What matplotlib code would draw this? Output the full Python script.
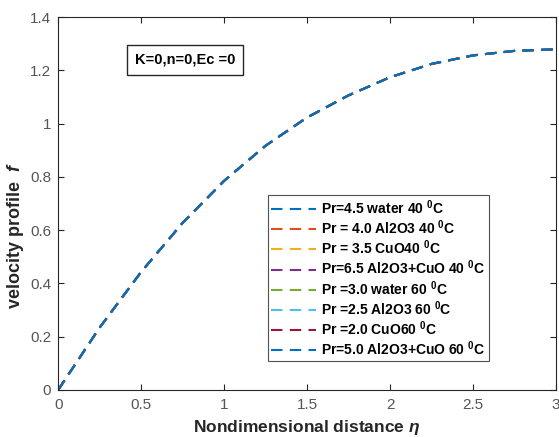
import matplotlib
matplotlib.use("Agg")
import matplotlib.pyplot as plt

eta = [0, 0.25, 0.5, 0.75, 1.0, 1.25, 1.5, 1.75, 2.0, 2.25, 2.5, 2.75, 3.0]
f_vals = [0, 0.234, 0.443, 0.627, 0.785, 0.917, 1.023, 1.106, 1.174, 1.224, 1.256, 1.273, 1.279]

labels = [
    r"Pr=4.5 water 40 $^{0}$C",
    r"Pr = 4.0 Al2O3 40 $^{0}$C",
    r"Pr = 3.5 CuO40 $^{0}$C",
    r"Pr=6.5 Al2O3+CuO 40 $^{0}$C",
    r"Pr =3.0 water 60 $^{0}$C",
    r"Pr =2.5 Al2O3 60 $^{0}$C",
    r"Pr =2.0 CuO60 $^{0}$C",
    r"Pr=5.0 Al2O3+CuO 60 $^{0}$C",
]
colors = ["#0072BD", "#D95319", "#EDB120", "#7E2F8E", "#77AC30", "#4DBEEE", "#A2142F", "#0072BD"]

plt.rcParams['font.family'] = ['Liberation Sans', 'DejaVu Sans']
plt.rcParams['mathtext.fontset'] = 'custom'
plt.rcParams['mathtext.rm'] = 'Liberation Sans:bold'
plt.rcParams['mathtext.it'] = 'Liberation Sans:italic:bold'
plt.rcParams['mathtext.bf'] = 'Liberation Sans:bold'

fig = plt.figure(figsize=(5.59, 4.37), dpi=100)
ax = fig.add_axes([0.104, 0.1076, 0.8906, 0.8534])

for lab, c in zip(labels, colors):
    ax.plot(eta, f_vals, linestyle=(0, (5.5, 3.5)), color=c, linewidth=1.5, label=lab)

ax.set_xlim(0, 3)
ax.set_ylim(0, 1.4)
ax.set_xticks([0, 0.5, 1, 1.5, 2, 2.5, 3])
ax.set_xticklabels(["0", "0.5", "1", "1.5", "2", "2.5", "3"])
ax.set_yticks([0, 0.2, 0.4, 0.6, 0.8, 1.0, 1.2, 1.4])
ax.set_yticklabels(["0", "0.2", "0.4", "0.6", "0.8", "1", "1.2", "1.4"])
ax.tick_params(direction='in', top=True, right=True, labelsize=11, colors='#262626',
               labelcolor='#555555', length=4, width=0.8)
ax.tick_params(axis='x', pad=6)
ax.tick_params(axis='y', pad=5)
for s in ax.spines.values():
    s.set_color('#262626')
    s.set_linewidth(0.8)

ax.set_xlabel(r"Nondimensional distance $\eta$", fontsize=12.5, fontweight='bold', color='#262626')
ax.set_ylabel(r"velocity profile  $f$", fontsize=13, fontweight='bold', color='#262626')
ax.xaxis.set_label_coords(0.5, -0.075)
ax.yaxis.set_label_coords(-0.064, 0.413)

ax.text(0.255, 0.885, "K=0,n=0,Ec =0", transform=ax.transAxes, ha='center', va='center',
        fontsize=10.5, fontweight='bold',
        bbox=dict(boxstyle='square,pad=0.55', facecolor='white', edgecolor='#262626', linewidth=1.0))

leg = ax.legend(loc='upper left', bbox_to_anchor=(0.421, 0.523),
                prop={'weight': 'bold', 'size': 10}, frameon=True, fancybox=False,
                handlelength=3.2, borderpad=0.25, labelspacing=0.11, handletextpad=0.4,
                borderaxespad=0)
leg.get_frame().set_edgecolor('#262626')
leg.get_frame().set_linewidth(0.8)

fig.savefig("out.png", dpi=100)
